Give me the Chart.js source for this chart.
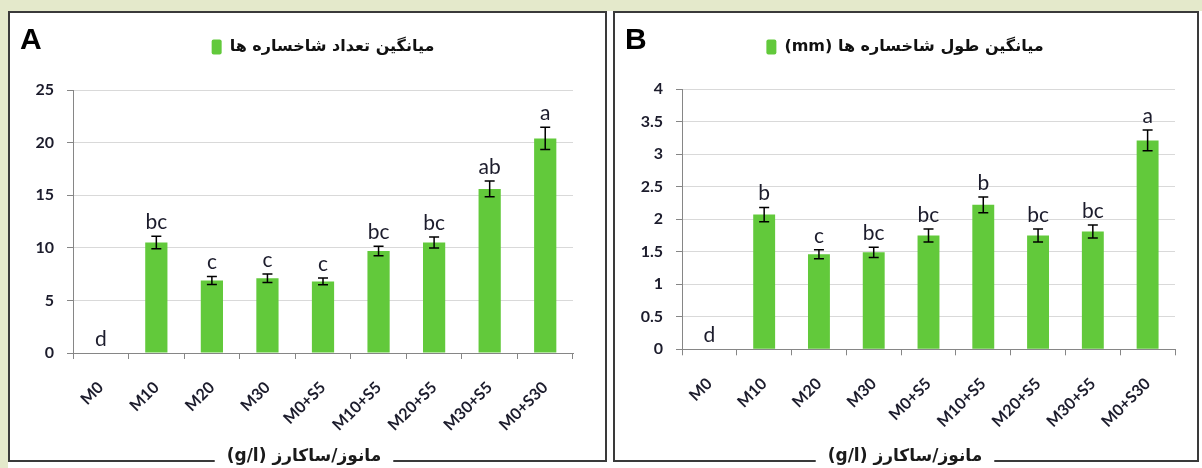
<!DOCTYPE html>
<html>
<head>
<meta charset="utf-8">
<script src="https://cdn.jsdelivr.net/npm/chart.js@4.4.1/dist/chart.umd.min.js"></script>
<style>
	html, body { margin: 0; padding: 0; }
	body { width: 1202px; height: 468px; background: #e4e9cb; position: relative; overflow: hidden; }
	.sheet { position: absolute; left: 8px; top: 11px; width: 1194px; height: 457px; background: #fff; }
	canvas { position: absolute; direction: rtl; }
	#chartA { left: 8px; top: 11px; }
	#chartB { left: 613px; top: 11px; }
</style>
</head>
<body>
<div class="sheet"></div>
<canvas id="chartA" width="599" height="457"></canvas>
<canvas id="chartB" width="586" height="457"></canvas>
<script>
const treatments = ['M0', 'M10', 'M20', 'M30', 'M0+S5', 'M10+S5', 'M20+S5', 'M30+S5', 'M0+S30']
const xTitle = 'مانوز/ساکارز (g/l)'

// A: shoot number
const countLabel = 'میانگین تعداد شاخساره ها'
const countMeans = [0, 10.5, 6.9, 7.1, 6.8, 9.7, 10.5, 15.6, 20.4]
const countErrors = [0, 0.6, 0.38, 0.4, 0.32, 0.45, 0.52, 0.75, 1.05]
const countGroups = ['d', 'bc', 'c', 'c', 'c', 'bc', 'bc', 'ab', 'a']
const countTicks = [0, 5, 10, 15, 20, 25]

// B: shoot length (mm)
const lengthLabel = 'میانگین طول شاخساره ها (mm)'
const lengthMeans = [0, 2.07, 1.46, 1.49, 1.75, 2.22, 1.75, 1.81, 3.21]
const lengthErrors = [0, 0.11, 0.07, 0.08, 0.1, 0.12, 0.1, 0.1, 0.16]
const lengthGroups = ['d', 'b', 'c', 'bc', 'bc', 'b', 'bc', 'bc', 'a']
const lengthTicks = [0, 0.5, 1, 1.5, 2, 2.5, 3, 3.5, 4]

const GREEN = '#62c93b'
const AXIS = '#868686'
const INK = '#1c1c2c'
const ARABIC = '"DejaVu Sans", sans-serif'
const TITLE_FONT = 17

Chart.defaults.font.family = 'Lato, sans-serif'

// error bars + significance letters, read from the dataset
const errorBars = {
	id: 'errorBars',
	afterDatasetsDraw(chart) {
		const { ctx, scales: { y } } = chart
		const ds = chart.data.datasets[0]
		const meta = chart.getDatasetMeta(0)
		ctx.save()
		ctx.strokeStyle = '#000'
		ctx.lineWidth = 1.5
		ctx.fillStyle = INK
		ctx.font = '21px Lato'
		ctx.textAlign = 'center'
		ctx.textBaseline = 'alphabetic'
		meta.data.forEach((bar, i) => {
			const err = ds.errors[i]
			const top = y.getPixelForValue(ds.data[i] + err)
			if (err > 0) {
				const bottom = y.getPixelForValue(ds.data[i] - err)
				ctx.beginPath()
				ctx.moveTo(bar.x, top)
				ctx.lineTo(bar.x, bottom)
				ctx.moveTo(bar.x - 5, top)
				ctx.lineTo(bar.x + 5, top)
				ctx.moveTo(bar.x - 5, bottom)
				ctx.lineTo(bar.x + 5, bottom)
				ctx.stroke()
			}
			ctx.fillText(ds.groups[i], bar.x, top - 7)
		})
		ctx.restore()
	}
}

// panel frame, broken where the bottom title sits, and the panel letter
const panelFrame = {
	id: 'panelFrame',
	beforeDraw(chart, args, opts) {
		const { ctx, width } = chart
		const t = chart.titleBlock
		ctx.save()
		ctx.font = 'bold ' + TITLE_FONT + 'px ' + ARABIC
		const half = ctx.measureText(xTitle).width / 2 + 12
		const cx = (t.left + t.right) / 2
		const yb = opts.bottom
		ctx.strokeStyle = '#3a3a3a'
		ctx.lineWidth = 2
		ctx.beginPath()
		ctx.moveTo(cx - half, yb)
		ctx.lineTo(1, yb)
		ctx.lineTo(1, 1)
		ctx.lineTo(width - 1, 1)
		ctx.lineTo(width - 1, yb)
		ctx.lineTo(cx + half, yb)
		ctx.stroke()
		ctx.restore()
	},
	afterDraw(chart, args, opts) {
		const { ctx } = chart
		ctx.save()
		ctx.font = 'bold 30px "Liberation Sans"'
		ctx.fillStyle = '#000'
		ctx.textAlign = 'left'
		ctx.textBaseline = 'alphabetic'
		ctx.fillText(opts.letter, 12, 38)
		ctx.restore()
	}
}

function makePanel(id, p) {
	const ctx = document.getElementById(id).getContext('2d')
	return new Chart(ctx, {
		type: 'bar',
		data: {
			labels: treatments,
			datasets: [{
				label: p.label,
				data: p.means,
				errors: p.errors,
				groups: p.groups,
				backgroundColor: GREEN,
				borderWidth: 0,
				barPercentage: 0.4,
				categoryPercentage: 1
			}]
		},
		options: {
			responsive: false,
			animation: false,
			events: [],
			layout: { padding: p.padding },
			scales: {
				x: {
					afterFit: s => { s.height = p.xHeight },
					ticks: {
						autoSkip: false,
						minRotation: 45,
						maxRotation: 45,
						padding: 19,
						color: INK,
						font: { size: 16, weight: 'bold' }
					},
					grid: { drawOnChartArea: false, offset: true, tickLength: 6, tickColor: AXIS },
					border: { color: AXIS }
				},
				y: {
					min: p.ticks[0],
					max: p.ticks[p.ticks.length - 1],
					afterBuildTicks: s => { s.ticks = p.ticks.map(v => ({ value: v })) },
					afterFit: s => { s.width = p.yWidth },
					ticks: {
						padding: 13,
						color: INK,
						font: { size: 16, weight: 'bold' },
						callback: v => String(v)
					},
					grid: { color: '#d9d9d9', tickLength: 6, tickColor: AXIS },
					border: { color: AXIS }
				}
			},
			plugins: {
				tooltip: { enabled: false },
				legend: {
					position: 'top',
					fullSize: p.legendFull,
					textDirection: 'rtl',
					labels: {
						boxWidth: 10,
						boxHeight: 15,
						padding: 10,
						useBorderRadius: true,
						borderRadius: 2,
						color: '#111',
						font: { family: ARABIC, size: 16, weight: 'bold' }
					}
				},
				subtitle: {
					display: true,
					text: '',
					position: 'top',
					weight: 500,
					font: { size: 10 },
					padding: { top: 0, bottom: p.gap }
				},
				title: {
					display: true,
					text: xTitle,
					position: 'bottom',
					color: '#1a1a1a',
					font: { family: ARABIC, size: TITLE_FONT, weight: 'bold' },
					padding: 0
				},
				panelFrame: { letter: p.letter, bottom: 450 }
			}
		},
		plugins: [errorBars, panelFrame]
	})
}

makePanel('chartA', {
	letter: 'A',
	label: countLabel,
	means: countMeans,
	errors: countErrors,
	groups: countGroups,
	ticks: countTicks,
	padding: { left: 27, right: 34, top: 18, bottom: 1 },
	yWidth: 38,
	xHeight: 93.6,
	gap: 13,
	legendFull: false
})

makePanel('chartB', {
	letter: 'B',
	label: lengthLabel,
	means: lengthMeans,
	errors: lengthErrors,
	groups: lengthGroups,
	ticks: lengthTicks,
	padding: { left: 22, right: 24, top: 18, bottom: 1 },
	yWidth: 47,
	xHeight: 97.3,
	gap: 12,
	legendFull: true
})
</script>
</body>
</html>
